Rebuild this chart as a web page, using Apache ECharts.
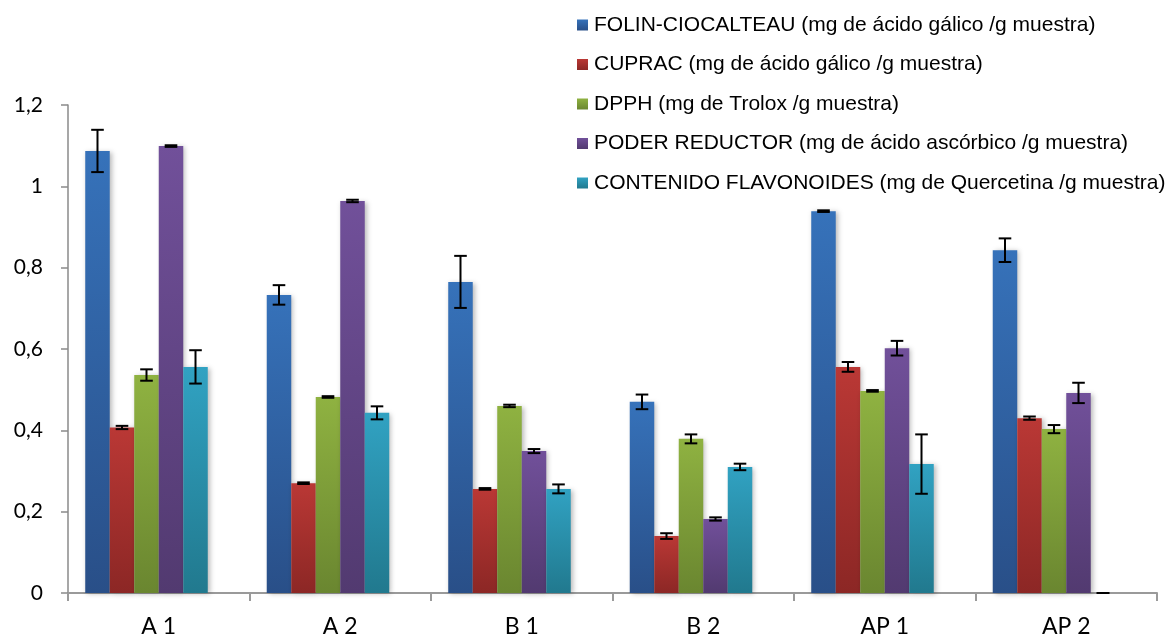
<!DOCTYPE html>
<html>
<head>
<meta charset="utf-8">
<script src="https://cdn.jsdelivr.net/npm/echarts@6/dist/echarts.min.js"></script>
<style>
  html, body { margin: 0; padding: 0; background: #fff; }
  #chart { width: 1174px; height: 638px; }
</style>
</head>
<body>
<div id="chart"></div>
<script>
// Sample groups on the x axis
const categories = ['A 1', 'A 2', 'B 1', 'B 2', 'AP 1', 'AP 2'];

// Assay names (legend)
const seriesNames = [
  'FOLIN-CIOCALTEAU (mg de ácido gálico /g muestra)',
  'CUPRAC (mg de ácido gálico /g muestra)',
  'DPPH (mg de Trolox /g muestra)',
  'PODER REDUCTOR (mg de ácido ascórbico /g muestra)',
  'CONTENIDO FLAVONOIDES (mg de Quercetina /g muestra)'
];

// Mean values per assay
const folin      = [1.087, 0.733, 0.765, 0.470, 0.939, 0.843];
const cuprac     = [0.407, 0.270, 0.256, 0.140, 0.556, 0.430];
const dpph       = [0.536, 0.482, 0.460, 0.379, 0.497, 0.403];
const poder      = [1.099, 0.964, 0.349, 0.182, 0.602, 0.492];
const flavonoid  = [0.556, 0.443, 0.256, 0.310, 0.317, 0.000];

// Standard deviations per assay
const folinErr     = [0.052, 0.024, 0.064, 0.018, 0.002, 0.029];
const cupracErr    = [0.004, 0.002, 0.002, 0.007, 0.012, 0.004];
const dpphErr      = [0.014, 0.002, 0.003, 0.011, 0.002, 0.010];
const poderErr     = [0.002, 0.003, 0.005, 0.004, 0.018, 0.025];
const flavonoidErr = [0.041, 0.016, 0.011, 0.008, 0.073, 0.000];

// Y axis ticks
const yMin = 0, yMax = 1.2, yStep = 0.2;

const values = [folin, cuprac, dpph, poder, flavonoid];
const errors = [folinErr, cupracErr, dpphErr, poderErr, flavonoidErr];

// Gradient pairs (top, bottom) for each assay
const palette = [
  ['#3672BA', '#294F88'],
  ['#BA3835', '#8C2725'],
  ['#8FB241', '#6A8630'],
  ['#71509A', '#523A70'],
  ['#31A2C2', '#21798E']
];

// The layout reserves six slots per group; the sixth stays empty
const slotCount = 6;
const catGap = 0.19;

function grad(c) {
  return new echarts.graphic.LinearGradient(0, 0, 0, 1, [
    { offset: 0, color: c[0] },
    { offset: 1, color: c[1] }
  ]);
}

const barSeries = values.map((vals, i) => ({
  name: seriesNames[i],
  type: 'bar',
  data: vals,
  barGap: '0%',
  barCategoryGap: (catGap * 100) + '%',
  itemStyle: {
    color: grad(palette[i]),
    shadowBlur: 5,
    shadowOffsetX: 2,
    shadowOffsetY: 1,
    shadowColor: 'rgba(0,0,0,0.28)'
  },
  emphasis: { disabled: true }
}));

barSeries.push({
  name: 'vacío',
  type: 'bar',
  data: categories.map(() => null),
  barGap: '0%',
  barCategoryGap: (catGap * 100) + '%'
});

// Error bar rows: [category index, slot index, value, error]
const errRows = [];
values.forEach((vals, s) => {
  vals.forEach((v, c) => errRows.push([c, s, v, errors[s][c]]));
});

const errSeries = {
  type: 'custom',
  name: 'err',
  data: errRows,
  z: 10,
  silent: true,
  renderItem: function (params, api) {
    const c = api.value(0), s = api.value(1), v = api.value(2), e = api.value(3);
    const catW = api.size([1, 0])[0];
    const bw = catW * (1 - catGap) / slotCount;
    const center = api.coord([c, 0])[0];
    const x = center - catW * (1 - catGap) / 2 + bw * (s + 0.5);
    const yHi = api.coord([c, v + e])[1];
    const yLo = api.coord([c, v - e])[1];
    const cap = 6.3;
    const style = { stroke: '#000', lineWidth: 2 };
    return {
      type: 'group',
      children: [
        { type: 'line', shape: { x1: x, y1: yHi, x2: x, y2: yLo }, style: style },
        { type: 'line', shape: { x1: x - cap, y1: yHi, x2: x + cap, y2: yHi }, style: style },
        { type: 'line', shape: { x1: x - cap, y1: yLo, x2: x + cap, y2: yLo }, style: style }
      ]
    };
  }
};

const chart = echarts.init(document.getElementById('chart'), null, { renderer: 'canvas' });

chart.setOption({
  animation: false,
  backgroundColor: '#fff',
  grid: { left: 68, right: 17, top: 105, bottom: 45, containLabel: false },
  legend: {
    data: seriesNames,
    orient: 'vertical',
    left: 577,
    top: 14.5,
    padding: 0,
    icon: 'rect',
    itemWidth: 11,
    itemHeight: 11,
    itemGap: 18.5,
    selectedMode: false,
    textStyle: {
      fontFamily: 'Liberation Sans, Arial, sans-serif',
      fontSize: 21,
      color: '#000',
      lineHeight: 21,
      padding: [0, 0, 0, 1]
    }
  },
  xAxis: {
    type: 'category',
    data: categories,
    axisLine: { lineStyle: { color: '#9a9a9a', width: 2 } },
    axisTick: { show: true, length: 8, lineStyle: { color: '#9a9a9a', width: 2 } },
    axisLabel: {
      margin: 22,
      fontFamily: 'Lato, sans-serif',
      fontSize: 23,
      color: '#000'
    },
    splitLine: { show: false }
  },
  yAxis: {
    type: 'value',
    min: yMin,
    max: yMax,
    interval: yStep,
    axisLine: { show: true, lineStyle: { color: '#8a8a8a', width: 1.5 } },
    axisTick: { show: true, length: 7, lineStyle: { color: '#8a8a8a', width: 1.5 } },
    splitLine: { show: false },
    axisLabel: {
      margin: 25,
      fontFamily: 'Lato, sans-serif',
      fontSize: 21,
      color: '#000',
      formatter: function (v) {
        return String(Math.round(v * 10) / 10).replace('.', ',');
      }
    }
  },
  series: barSeries.concat([errSeries])
});
</script>
</body>
</html>
